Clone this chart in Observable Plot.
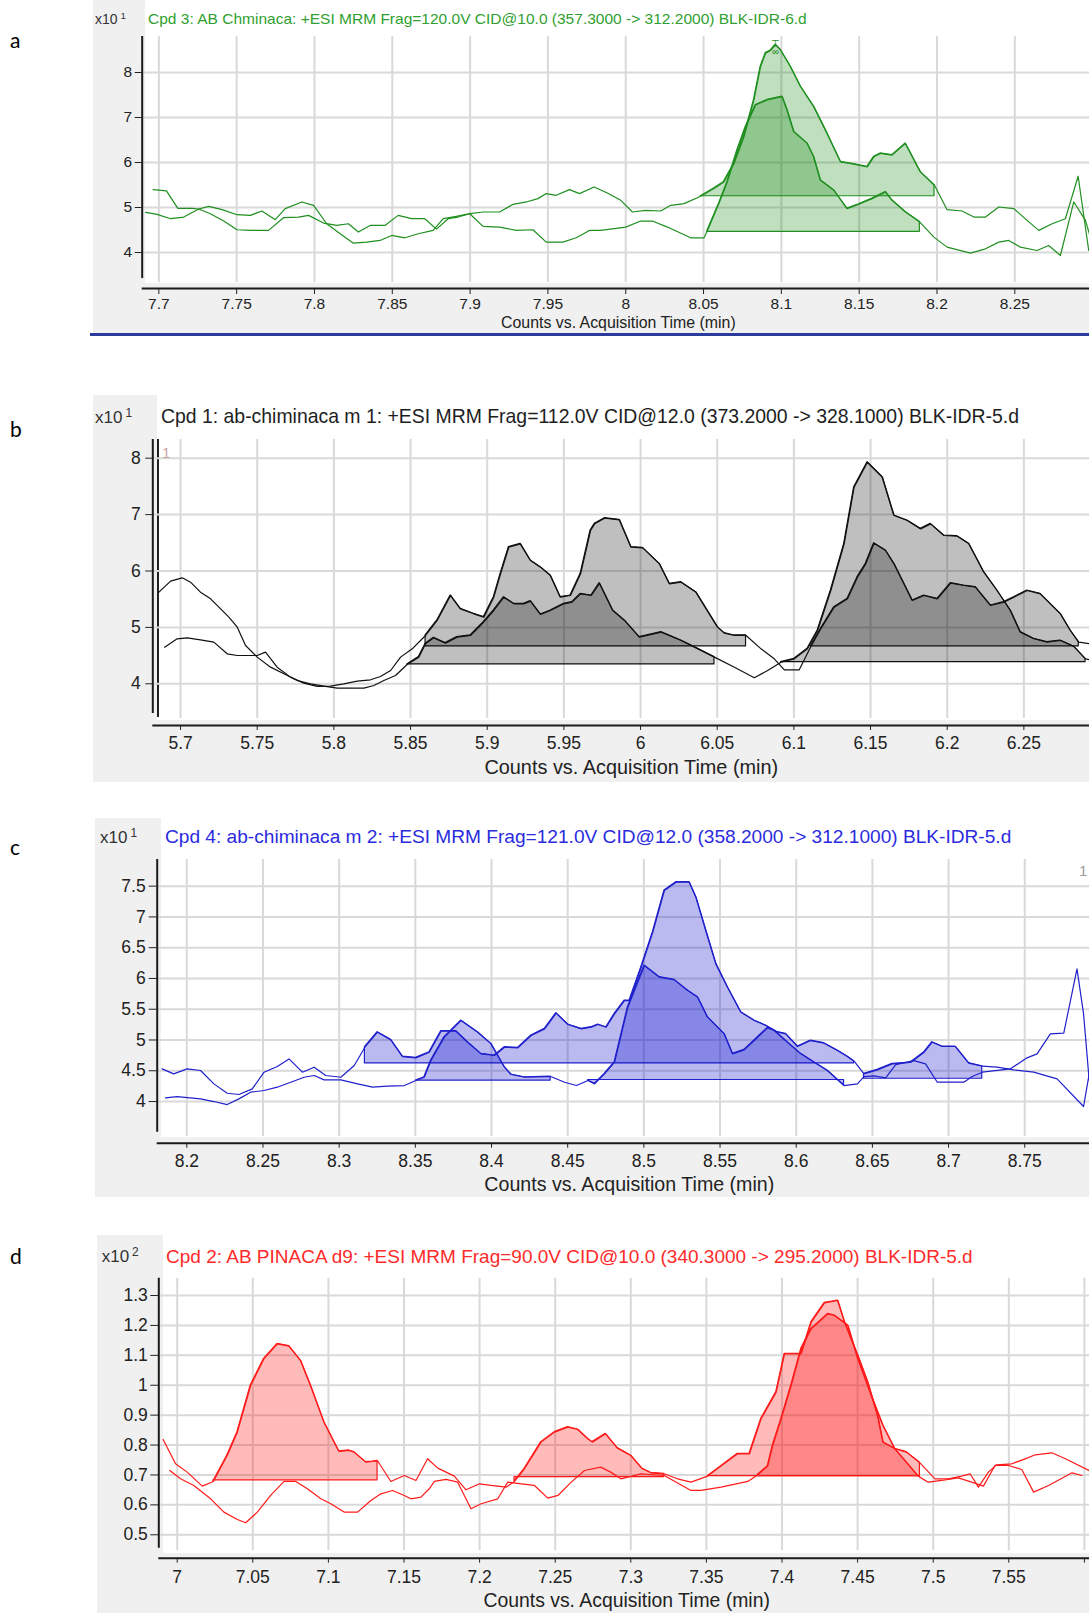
<!DOCTYPE html>
<html><head><meta charset="utf-8">
<script src="https://cdn.jsdelivr.net/npm/d3@7"></script>
<script src="https://cdn.jsdelivr.net/npm/@observablehq/plot@0.6"></script>
<style>
html,body{margin:0;padding:0;background:#fff;overflow:hidden}
#page{position:relative;width:1089px;height:1613px;overflow:hidden;font-family:"Liberation Sans",Arial,Helvetica,sans-serif}
.t{position:absolute;white-space:nowrap;line-height:1}
</style></head>
<body><div id="page"></div>
<script>
// ---------------- DATA ----------------
// Panel a: Cpd 3 (green)
const aTitle = "Cpd 3: AB Chminaca: +ESI MRM Frag=120.0V CID@10.0 (357.3000 -> 312.2000) BLK-IDR-6.d";
const aXTicks = [7.7,7.75,7.8,7.85,7.9,7.95,8,8.05,8.1,8.15,8.2,8.25];
const aXLabels = ["7.7","7.75","7.8","7.85","7.9","7.95","8","8.05","8.1","8.15","8.2","8.25"];
const aYTicks = [4,5,6,7,8];
const aYLabels = ["4","5","6","7","8"];
const aLineUpper = [[7.6964,5.398],[7.7049,5.368],[7.7122,4.981],[7.7214,4.981],[7.7256,4.967],[7.7321,5.026],[7.7406,4.952],[7.7502,4.840],[7.7588,4.825],[7.7662,4.922],[7.7748,4.729],[7.7812,4.974],[7.7919,5.123],[7.7994,5.048],[7.8079,4.639],[7.8165,4.416],[7.8250,4.208],[7.8335,4.230],[7.8421,4.268],[7.8496,4.379],[7.8581,4.327],[7.8667,4.416],[7.8763,4.491],[7.8827,4.751],[7.8912,4.803],[7.8998,4.862],[7.9083,4.900],[7.9190,4.900],[7.9276,5.071],[7.9361,5.123],[7.9436,5.197],[7.9489,5.309],[7.9553,5.271],[7.9639,5.398],[7.9703,5.309],[7.9797,5.457],[7.9882,5.323],[7.9968,5.160],[8.0043,4.900],[8.0128,4.937],[8.0225,4.922],[8.0289,5.048],[8.0375,5.086],[8.0482,5.249],[8.0567,5.420],[8.0631,5.569],[8.0696,5.978],[8.0760,6.572],[8.0824,7.390],[8.0867,8.134],[8.0899,8.431],[8.0931,8.491],[8.0963,8.617],[8.0995,8.506],[8.1059,8.134],[8.1124,7.688],[8.1209,7.242],[8.1295,6.647],[8.1381,6.015],[8.1466,5.963],[8.1552,5.903],[8.1595,6.126],[8.1637,6.201],[8.1712,6.164],[8.1798,6.424],[8.1894,5.792],[8.1984,5.494],[8.2065,4.952],[8.2161,4.922],[8.2237,4.788],[8.2312,4.788],[8.2397,5.011],[8.2494,4.974],[8.2579,4.714],[8.2654,4.491],[8.2740,4.639],[8.2825,4.751],[8.2907,5.695],[8.2975,4.045]];
const aLineLower = [[7.6915,4.892],[7.6989,4.848],[7.7075,4.751],[7.7160,4.788],[7.7256,4.967],[7.7331,4.862],[7.7417,4.699],[7.7502,4.506],[7.7588,4.491],[7.7705,4.491],[7.7801,4.773],[7.7897,4.788],[7.7962,4.825],[7.8058,4.654],[7.8143,4.602],[7.8218,4.639],[7.8282,4.454],[7.8357,4.602],[7.8453,4.602],[7.8538,4.825],[7.8624,4.751],[7.8709,4.751],[7.8784,4.520],[7.8859,4.751],[7.8923,4.788],[7.8998,4.862],[7.9083,4.580],[7.9190,4.565],[7.9297,4.491],[7.9404,4.506],[7.9489,4.230],[7.9596,4.230],[7.9682,4.327],[7.9767,4.491],[7.9839,4.491],[8.0000,4.565],[8.0096,4.699],[8.0171,4.699],[8.0268,4.565],[8.0417,4.327],[8.0503,4.327],[8.0524,4.476],[8.0599,5.086],[8.0653,5.569],[8.0717,6.275],[8.0771,6.796],[8.0835,7.279],[8.0910,7.390],[8.1006,7.465],[8.1038,7.167],[8.1081,6.684],[8.1167,6.424],[8.1209,6.126],[8.1252,5.606],[8.1338,5.383],[8.1423,4.974],[8.1498,5.071],[8.1584,5.197],[8.1670,5.346],[8.1712,5.160],[8.1798,4.900],[8.1890,4.677],[8.1980,4.342],[8.2065,4.119],[8.2215,3.985],[8.2312,4.082],[8.2397,4.230],[8.2461,4.268],[8.2536,4.119],[8.2643,4.045],[8.2718,4.156],[8.2793,3.933],[8.2879,5.123],[8.2954,4.714],[8.2979,4.416]];
const aPeaks = [{line:"upper", from:8.0482, to:8.1984, base:5.25},{line:"lower", from:8.0524, to:8.1890, base:4.46}];

// Panel b: Cpd 1 (black)
const bTitle = "Cpd 1: ab-chiminaca m 1: +ESI MRM Frag=112.0V CID@12.0 (373.2000 -> 328.1000) BLK-IDR-5.d";
const bXTicks = [5.7,5.75,5.8,5.85,5.9,5.95,6,6.05,6.1,6.15,6.2,6.25];
const bXLabels = ["5.7","5.75","5.8","5.85","5.9","5.95","6","6.05","6.1","6.15","6.2","6.25"];
const bYTicks = [4,5,6,7,8];
const bYLabels = ["4","5","6","7","8"];
const bLineX = [[5.6859,5.625],[5.6935,5.820],[5.7011,5.879],[5.7065,5.802],[5.7130,5.625],[5.7196,5.507],[5.7250,5.359],[5.7315,5.182],[5.7370,5.004],[5.7424,4.679],[5.7500,4.473],[5.7587,4.295],[5.7674,4.177],[5.7761,4.059],[5.7848,4.000],[5.7935,3.959],[5.8022,3.923],[5.8109,3.923],[5.8196,3.923],[5.8261,3.970],[5.8326,4.059],[5.8402,4.148],[5.8478,4.343],[5.8554,4.473],[5.8598,4.709],[5.8652,4.815],[5.8728,4.721],[5.8804,4.827],[5.8891,4.857],[5.8967,5.064],[5.9043,5.300],[5.9109,5.536],[5.9174,5.418],[5.9239,5.418],[5.9283,5.465],[5.9348,5.229],[5.9413,5.300],[5.9500,5.418],[5.9554,5.448],[5.9609,5.595],[5.9679,5.566],[5.9733,5.784],[5.9820,5.300],[5.9896,5.123],[5.9993,4.827],[6.0135,4.916],[6.0265,4.768],[6.0352,4.650],[6.0482,4.473],[6.0612,4.295],[6.0742,4.106],[6.0829,4.236],[6.0916,4.384],[6.1003,4.443],[6.1089,4.620],[6.1155,4.945],[6.1241,5.654],[6.1328,6.482],[6.1393,7.486],[6.1480,7.929],[6.1578,7.663],[6.1654,6.984],[6.1740,6.895],[6.1827,6.747],[6.1892,6.836],[6.1979,6.629],[6.2066,6.617],[6.2142,6.482],[6.2240,5.979],[6.2326,5.654],[6.2413,5.300],[6.2478,4.916],[6.2565,4.798],[6.2652,4.739],[6.2739,4.768],[6.2826,4.662],[6.2902,4.443],[6.2928,4.425]];
const bLineY = [[5.6896,4.650],[5.6978,4.798],[5.7043,4.815],[5.7130,4.780],[5.7217,4.739],[5.7304,4.532],[5.7370,4.502],[5.7500,4.502],[5.7554,4.561],[5.7630,4.295],[5.7717,4.118],[5.7804,4.012],[5.7891,3.953],[5.7978,3.959],[5.8065,4.000],[5.8152,4.047],[5.8239,4.071],[5.8304,4.130],[5.8370,4.236],[5.8435,4.473],[5.8511,4.620],[5.8565,4.768],[5.8598,4.857],[5.8674,5.123],[5.8761,5.566],[5.8826,5.329],[5.8913,5.241],[5.8978,5.182],[5.9043,5.536],[5.9087,5.950],[5.9141,6.422],[5.9217,6.482],[5.9283,6.186],[5.9348,6.068],[5.9413,5.920],[5.9478,5.536],[5.9543,5.566],[5.9609,5.950],[5.9674,6.718],[5.9701,6.836],[5.9766,6.937],[5.9863,6.907],[5.9939,6.422],[6.0015,6.411],[6.0124,6.127],[6.0189,5.773],[6.0265,5.802],[6.0362,5.625],[6.0503,5.004],[6.0547,4.898],[6.0612,4.857],[6.0688,4.857],[6.0786,4.620],[6.0872,4.443],[6.0938,4.248],[6.1035,4.248],[6.1111,4.662],[6.1176,4.975],[6.1263,5.359],[6.1350,5.507],[6.1415,5.891],[6.1469,6.127],[6.1523,6.493],[6.1599,6.363],[6.1654,6.127],[6.1719,5.773],[6.1773,5.477],[6.1849,5.566],[6.1936,5.507],[6.2023,5.784],[6.2109,5.743],[6.2185,5.713],[6.2283,5.389],[6.2370,5.448],[6.2435,5.536],[6.2522,5.654],[6.2608,5.595],[6.2739,5.241],[6.2804,4.945],[6.2858,4.739],[6.2928,4.709]];
const bPeaks = [{line:"y", from:5.8598, to:6.0688, base:4.662},{line:"x", from:5.8478, to:6.0482, base:4.343},{line:"x", from:6.0916, to:6.2902, base:4.384},{line:"y", from:6.1111, to:6.2858, base:4.662}];

// Panel c: Cpd 4 (blue)
const cTitle = "Cpd 4: ab-chiminaca m 2: +ESI MRM Frag=121.0V CID@12.0 (358.2000 -> 312.1000) BLK-IDR-5.d";
const cXTicks = [8.2,8.25,8.3,8.35,8.4,8.45,8.5,8.55,8.6,8.65,8.7,8.75];
const cXLabels = ["8.2","8.25","8.3","8.35","8.4","8.45","8.5","8.55","8.6","8.65","8.7","8.75"];
const cYTicks = [4,4.5,5,5.5,6,6.5,7,7.5];
const cYLabels = ["4","4.5","5","5.5","6","6.5","7","7.5"];
const cLineU = [[8.1838,4.531],[8.1914,4.450],[8.2002,4.531],[8.2090,4.504],[8.2178,4.287],[8.2265,4.135],[8.2342,4.114],[8.2430,4.206],[8.2507,4.477],[8.2594,4.569],[8.2671,4.693],[8.2759,4.477],[8.2836,4.558],[8.2912,4.423],[8.3011,4.395],[8.3099,4.585],[8.3169,4.883],[8.3252,5.127],[8.3340,5.002],[8.3417,4.731],[8.3504,4.710],[8.3592,4.802],[8.3669,5.143],[8.3768,5.143],[8.3844,4.964],[8.3932,4.775],[8.4020,4.748],[8.4086,4.883],[8.4173,4.872],[8.4261,5.073],[8.4349,5.181],[8.4425,5.436],[8.4502,5.251],[8.4590,5.181],[8.4656,5.208],[8.4699,5.251],[8.4753,5.208],[8.4808,5.425],[8.4873,5.641],[8.4906,5.641],[8.4983,6.183],[8.5059,6.752],[8.5135,7.429],[8.5212,7.565],[8.5299,7.565],[8.5343,7.321],[8.5408,6.779],[8.5474,6.237],[8.5550,5.858],[8.5638,5.452],[8.5725,5.316],[8.5801,5.235],[8.5878,5.127],[8.5932,5.100],[8.6009,4.894],[8.6096,4.991],[8.6183,4.948],[8.6271,4.829],[8.6336,4.731],[8.6380,4.655],[8.6445,4.450],[8.6533,4.515],[8.6631,4.612],[8.6751,4.634],[8.6838,4.796],[8.6893,4.964],[8.6959,4.894],[8.7046,4.894],[8.7133,4.623],[8.7221,4.574],[8.7319,4.558],[8.7428,4.515],[8.7559,4.477],[8.7712,4.368],[8.7886,3.919],[8.7923,4.450]];
const cLineL = [[8.1860,4.060],[8.1936,4.081],[8.2090,4.043],[8.2178,4.000],[8.2265,3.951],[8.2342,4.043],[8.2419,4.152],[8.2507,4.179],[8.2594,4.233],[8.2682,4.314],[8.2770,4.395],[8.2836,4.423],[8.2901,4.352],[8.3011,4.352],[8.3121,4.287],[8.3219,4.233],[8.3318,4.249],[8.3428,4.260],[8.3504,4.341],[8.3559,4.395],[8.3603,4.666],[8.3691,5.046],[8.3800,5.316],[8.3910,5.127],[8.3998,4.937],[8.4086,4.558],[8.4129,4.439],[8.4217,4.395],[8.4388,4.406],[8.4480,4.314],[8.4557,4.260],[8.4634,4.341],[8.4677,4.287],[8.4742,4.450],[8.4808,4.639],[8.4895,5.533],[8.5004,6.210],[8.5103,6.021],[8.5201,5.977],[8.5288,5.804],[8.5354,5.696],[8.5419,5.371],[8.5528,5.100],[8.5583,4.775],[8.5659,4.840],[8.5725,4.991],[8.5812,5.197],[8.5856,5.154],[8.5943,4.964],[8.6031,4.775],[8.6118,4.639],[8.6205,4.504],[8.6314,4.260],[8.6402,4.287],[8.6445,4.406],[8.6511,4.417],[8.6587,4.385],[8.6653,4.601],[8.6773,4.666],[8.6849,4.612],[8.6926,4.314],[8.7100,4.314],[8.7155,4.406],[8.7221,4.477],[8.7406,4.531],[8.7515,4.710],[8.7581,4.775],[8.7668,5.100],[8.7756,5.111],[8.7843,6.156],[8.7886,5.425],[8.7923,4.341]];
const cPeaks = [{line:"u", from:8.3169, to:8.6380, base:4.62},{line:"l", from:8.3504, to:8.4388, base:4.34},{line:"l", from:8.4634, to:8.6314, base:4.35},{line:"u", from:8.6445, to:8.7221, base:4.37}];

// Panel d: Cpd 2 (red)
const dTitle = "Cpd 2: AB PINACA d9: +ESI MRM Frag=90.0V CID@10.0 (340.3000 -> 295.2000) BLK-IDR-5.d";
const dXTicks = [7,7.05,7.1,7.15,7.2,7.25,7.3,7.35,7.4,7.45,7.5,7.55,7.6];
const dXLabels = ["7","7.05","7.1","7.15","7.2","7.25","7.3","7.35","7.4","7.45","7.5","7.55",""];
const dYTicks = [0.5,0.6,0.7,0.8,0.9,1,1.1,1.2,1.3];
const dYLabels = ["0.5","0.6","0.7","0.8","0.9","1","1.1","1.2","1.3"];
const dLineA = [[6.9907,0.8187],[6.9989,0.7373],[7.0066,0.7095],[7.0166,0.6627],[7.0239,0.6783],[7.0331,0.7652],[7.0398,0.8432],[7.0486,0.9992],[7.0574,1.0883],[7.0663,1.1384],[7.0740,1.1306],[7.0817,1.0827],[7.0883,0.9992],[7.0972,0.8766],[7.1071,0.7786],[7.1137,0.7819],[7.1170,0.7763],[7.1248,0.7429],[7.1292,0.7451],[7.1325,0.7474],[7.1413,0.6783],[7.1502,0.6983],[7.1579,0.6816],[7.1656,0.7540],[7.1723,0.7228],[7.1833,0.6961],[7.1910,0.6504],[7.1999,0.6705],[7.2076,0.6649],[7.2175,0.6593],[7.2231,0.6783],[7.2297,0.7206],[7.2407,0.8098],[7.2496,0.8432],[7.2584,0.8599],[7.2650,0.8521],[7.2716,0.8209],[7.2746,0.8098],[7.2834,0.8376],[7.2912,0.7897],[7.3000,0.7652],[7.3077,0.7206],[7.3133,0.7072],[7.3221,0.7039],[7.3309,0.6872],[7.3398,0.6760],[7.3508,0.6961],[7.3597,0.7295],[7.3707,0.7708],[7.3785,0.7708],[7.3862,0.8877],[7.3962,0.9769],[7.4017,1.1050],[7.4127,1.1050],[7.4194,1.2109],[7.4282,1.2755],[7.4370,1.2833],[7.4415,1.2109],[7.4503,1.0994],[7.4569,1.0103],[7.4636,0.8933],[7.4669,0.8097],[7.4747,0.7875],[7.4824,0.7763],[7.4912,0.7407],[7.5012,0.6872],[7.5100,0.6872],[7.5188,0.6961],[7.5244,0.7039],[7.5299,0.6593],[7.5365,0.7095],[7.5420,0.7340],[7.5520,0.7373],[7.5608,0.7540],[7.5675,0.7674],[7.5785,0.7741],[7.5874,0.7540],[7.6030,0.7150]];
const dLineB = [[6.9951,0.7150],[7.0022,0.6872],[7.0110,0.6649],[7.0221,0.6203],[7.0309,0.5758],[7.0398,0.5513],[7.0453,0.5401],[7.0530,0.5758],[7.0618,0.6315],[7.0707,0.6783],[7.0784,0.6783],[7.0861,0.6538],[7.0950,0.6203],[7.1016,0.6036],[7.1104,0.5758],[7.1193,0.5758],[7.1281,0.6148],[7.1347,0.6370],[7.1424,0.6482],[7.1491,0.6337],[7.1546,0.6203],[7.1612,0.6259],[7.1667,0.6538],[7.1701,0.6783],[7.1778,0.6850],[7.1855,0.6760],[7.1943,0.5869],[7.2010,0.6036],[7.2120,0.6203],[7.2186,0.6760],[7.2275,0.6705],[7.2363,0.6649],[7.2451,0.6226],[7.2518,0.6315],[7.2606,0.6760],[7.2694,0.7150],[7.2801,0.7262],[7.2867,0.7095],[7.2934,0.6872],[7.3066,0.7039],[7.3221,0.6983],[7.3398,0.6482],[7.3464,0.6482],[7.3597,0.6593],[7.3774,0.6783],[7.3840,0.7006],[7.3906,0.7295],[7.3939,0.7986],[7.3995,0.8877],[7.4061,0.9992],[7.4127,1.1217],[7.4194,1.1886],[7.4304,1.2387],[7.4348,1.2331],[7.4437,1.1997],[7.4503,1.0883],[7.4592,0.9657],[7.4669,0.8655],[7.4747,0.7875],[7.4813,0.7485],[7.4879,0.7095],[7.4901,0.6961],[7.4967,0.6760],[7.5056,0.6816],[7.5166,0.6905],[7.5255,0.6760],[7.5332,0.6627],[7.5409,0.7318],[7.5498,0.7318],[7.5586,0.7184],[7.5664,0.6426],[7.5763,0.6649],[7.5918,0.7072],[7.5984,0.6983]];
const dPeaks = [{line:"a", from:7.0239, to:7.1325, base:0.682},{line:"a", from:7.2231, to:7.3221, base:0.693},{line:"a", from:7.3508, to:7.4912, base:0.696},{line:"b", from:7.3840, to:7.4901, base:0.696}];

const axisTitle = "Counts vs. Acquisition Time (min)";

// ---------------- LAYOUT ----------------
const FONT = '"Liberation Sans", Arial, Helvetica, sans-serif';
const page = document.getElementById("page");

function box(l, t, w, h, bg) {
  const d = document.createElement("div");
  d.style.cssText = `position:absolute;left:${l}px;top:${t}px;width:${w}px;height:${h}px;background:${bg}`;
  page.appendChild(d);
  return d;
}
function txt(html, o) {
  const d = document.createElement("div");
  d.className = "t";
  d.innerHTML = html;
  d.style.fontSize = (o.size || 14) + "px";
  d.style.color = o.color || "#222";
  if (o.family) d.style.fontFamily = o.family;
  d.style.left = o.left + "px";
  d.style.top = o.cy + "px";
  d.style.transform = o.center ? "translate(-50%,-50%)" : "translateY(-50%)";
  page.appendChild(d);
  if (o.fit) {
    const w = d.getBoundingClientRect().width;
    d.style.fontSize = ((o.size || 14) * o.fit / w) + "px";
  }
  return d;
}

const panels = [
  { letter:"a", letterY:39, title:aTitle, titleColor:"#2f9f2f", titleLeft:148, titleCy:19, titleW:659,
    exp:"1", expLeft:95, expCy:19, expSize:14,
    gray:[93,0,996,333], white:[145,0,944,283],
    top:0, height:330, ml:141.7, frameTop:36, axisY:288,
    xDom:[7.6893,8.298], yDom:[3.2,8.8], yAxisEnd:3.42, gridEnd:3.33,
    xTicks:aXTicks, xLabels:aXLabels, yTicks:aYTicks, yLabels:aYLabels,
    lines:{upper:aLineUpper, lower:aLineLower}, peaks:aPeaks,
    stroke:"#1f8f1f", fill:"#008000", fillOpacity:0.25,
    fontSize:15.5, xTickSize:6, xTickPad:3, yTickSize:7, yTickPad:3,
    axTitleCx:618.4, axTitleCy:322.7, axTitleW:235 },
  { letter:"b", letterY:428, title:bTitle, titleColor:"#1e1e1e", titleLeft:161, titleCy:416.7, titleW:859,
    exp:"1", expLeft:95, expCy:417, expSize:17,
    gray:[93,395,996,387], white:[157,395,932,325],
    top:395, height:390, ml:152.3, frameTop:439, axisY:725,
    xDom:[5.6819,6.2928], yDom:[3.2606,8.3316], yAxisEnd:3.473, gridEnd:3.384,
    xTicks:bXTicks, xLabels:bXLabels, yTicks:bYTicks, yLabels:bYLabels,
    lines:{x:bLineX, y:bLineY}, peaks:bPeaks,
    stroke:"#111111", fill:"#000000", fillOpacity:0.25,
    fontSize:17.5, xTickSize:5, xTickPad:6.5, yTickSize:7, yTickPad:5,
    axTitleCx:631.3, axTitleCy:768.3, axTitleW:294 },
  { letter:"c", letterY:846, title:cTitle, titleColor:"#2b2be0", titleLeft:165, titleCy:837.3, titleW:847,
    exp:"1", expLeft:100, expCy:837, expSize:17,
    gray:[95,818,994,379], white:[161,818,928,318.7],
    top:818, height:382, ml:156.7, frameTop:859, axisY:1142.7,
    xDom:[8.18057,8.7925], yDom:[3.323,7.933], yAxisEnd:3.50, gridEnd:3.43,
    xTicks:cXTicks, xLabels:cXLabels, yTicks:cYTicks, yLabels:cYLabels,
    lines:{u:cLineU, l:cLineL}, peaks:cPeaks,
    stroke:"#2020cc", fill:"#0000cc", fillOpacity:0.27,
    fontSize:17.5, xTickSize:5, xTickPad:6, yTickSize:8, yTickPad:3.5,
    axTitleCx:629.3, axTitleCy:1185, axTitleW:290 },
  { letter:"d", letterY:1254.5, title:dTitle, titleColor:"#ff2a2a", titleLeft:166, titleCy:1256.7, titleW:807,
    exp:"2", expLeft:101.7, expCy:1256, expSize:17,
    gray:[97,1235,992,378], white:[162.7,1235,926.3,318],
    top:1235, height:378, ml:158.3, frameTop:1277.7, axisY:1557.7,
    xDom:[6.98783,7.60337], yDom:[0.4217,1.3579], yAxisEnd:0.455, gridEnd:0.447,
    xTicks:dXTicks, xLabels:dXLabels, yTicks:dYTicks, yLabels:dYLabels,
    lines:{a:dLineA, b:dLineB}, peaks:dPeaks,
    stroke:"#ff1a1a", fill:"#ff0000", fillOpacity:0.27,
    fontSize:17.5, xTickSize:5, xTickPad:7.5, yTickSize:8, yTickPad:3,
    axTitleCx:626.7, axTitleCy:1601, axTitleW:286.7 }
];

for (const p of panels) {
  box(...p.gray, "#f0f0f0");
  box(...p.white, "#ffffff");
}
// panel a bottom blue rule
box(90, 333, 999, 2.5, "#2b3b9c");
// panel b frame edge line
box(156.5, 439, 2, 278, "#202020");

for (const p of panels) {
  const marks = [
    Plot.ruleX(p.xTicks, {x: d => d, y1: () => p.gridEnd, y2: () => p.yDom[1], stroke: "#d9d9d9", strokeWidth: 2}),
    Plot.ruleY(p.yTicks, {y: d => d, stroke: "#d9d9d9", strokeWidth: 2})
  ];
  for (const pk of p.peaks) {
    const pts = p.lines[pk.line].filter(d => d[0] >= pk.from - 1e-9 && d[0] <= pk.to + 1e-9);
    marks.push(Plot.areaY(pts, {x: d => d[0], y1: () => pk.base, y2: d => d[1],
      fill: p.fill, fillOpacity: p.fillOpacity, stroke: p.stroke, strokeWidth: 1.2, strokeLinejoin: "round"}));
  }
  for (const k of Object.keys(p.lines)) {
    marks.push(Plot.line(p.lines[k], {x: d => d[0], y: d => d[1], stroke: p.stroke, strokeWidth: 1.2, strokeLinejoin: "round"}));
  }
  if (p.letter === "a") {
    const top = aLineUpper.reduce((m, d) => d[1] > m[1] ? d : m);
    marks.push(Plot.text([top], {x: d => d[0], y: d => d[1], text: () => "\u22a4\n\u221e", lineHeight: 0.8, dy: 4, fontSize: 10, fill: p.stroke}));
  }
  marks.push(Plot.ruleX([p.xDom[0]], {x: d => d, y1: () => p.yAxisEnd, y2: () => p.yDom[1], stroke: "#1a1a1a", strokeWidth: 2}));
  marks.push(Plot.ruleY([p.yDom[0]], {y: d => d, stroke: "#1a1a1a", strokeWidth: 2}));

  const svg = Plot.plot({
    width: 1089, height: p.height,
    marginLeft: p.ml, marginRight: 0,
    marginTop: p.frameTop - p.top, marginBottom: p.top + p.height - p.axisY,
    x: {domain: p.xDom, ticks: p.xTicks, tickFormat: d => { const i = p.xTicks.indexOf(d); return i >= 0 ? p.xLabels[i] : ""; },
        tickSize: p.xTickSize, tickPadding: p.xTickPad, label: null},
    y: {domain: p.yDom, ticks: p.yTicks, tickFormat: d => { const i = p.yTicks.indexOf(d); return i >= 0 ? p.yLabels[i] : ""; },
        tickSize: p.yTickSize, tickPadding: p.yTickPad, label: null},
    style: {fontFamily: FONT, fontSize: p.fontSize + "px", color: "#222", background: "transparent", overflow: "hidden"},
    marks
  });
  svg.style.position = "absolute";
  svg.style.left = "0px";
  svg.style.top = p.top + "px";
  page.appendChild(svg);

  // texts
  txt(p.title, {left: p.titleLeft, cy: p.titleCy, size: 15, color: p.titleColor, fit: p.titleW});
  txt(`x10<span style="font-size:0.7em;position:relative;top:-0.5em;margin-left:3px">${p.exp}</span>`,
      {left: p.expLeft, cy: p.expCy, size: p.expSize, color: "#333"});
  txt(axisTitle, {left: p.axTitleCx, cy: p.axTitleCy, size: 15, color: "#222", center: true, fit: p.axTitleW});
  txt(p.letter, {left: 10, cy: p.letterY, size: 21, color: "#000", family: "Lato, 'Open Sans', sans-serif"});
}
// small curve index markers
txt("1", {left: 162, cy: 452, size: 15, color: "#c8a4a4"});
txt("1", {left: 1079, cy: 870, size: 15, color: "#9a9a9a"});
</script></body></html>
